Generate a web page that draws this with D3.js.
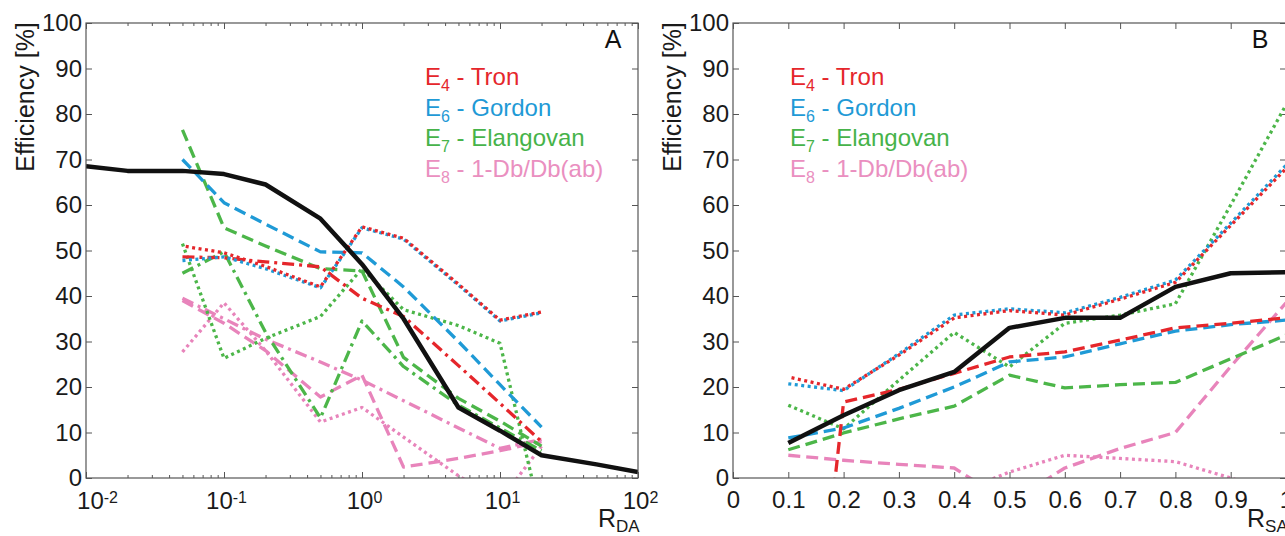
<!DOCTYPE html>
<html><head><meta charset="utf-8">
<script src="https://cdn.jsdelivr.net/npm/d3@7"></script>
<style>body{margin:0;background:#fff}svg{display:block}</style>
</head><body><svg id="c" width="1285" height="536"></svg>
<script>
// ---------- data ----------
const yTicks = [0,10,20,30,40,50,60,70,80,90,100];
const xTicksA = [0.01,0.1,1,10,100];
const xTickExpA = ["-2","-1","0","1","2"];
const xTicksB = [0,0.1,0.2,0.3,0.4,0.5,0.6,0.7,0.8,0.9,1];
const xTickLabelsB = ["0","0.1","0.2","0.3","0.4","0.5","0.6","0.7","0.8","0.9","1"];
const legendSubs = ["4","6","7","8"];
const legendNames = ["Tron","Gordon","Elangovan","1-Db/Db(ab)"];

// Panel A (R_DA, log scale)
const xA = [0.05,0.1,0.2,0.5,1,2,5,10,20];
const xABlack = [0.01,0.02,0.05,0.1,0.2,0.5,1,2,5,10,20,50,100];
const blackA = [68.5,67.5,67.5,66.8,64.5,57,47,35,15.5,10.4,5,3,1.3];
const redDotA = [51,49.5,46.5,42,55.2,52.7,42.6,34.7,36.5];
const blueDotA = [47.8,48.6,46,41.8,55,52.5,42.4,34.5,36.3];
const redDashDotA = [48.6,48.4,47.5,46.4,39.5,35.5,24.7,16.4,8];
const blueDashA = [70,60.5,55.8,49.7,49.5,42,30,20.5,11.2];
const greenDashA = [76.5,55,51,46,45.5,26.5,17.5,12.5,7];
const greenDashDotA = [45,49.7,32,13.2,34.5,24.5,16,11,6];
const greenDotA = [51.5,26.3,30.7,35.5,46,37,33.5,29.6,-9];
const pinkDashA = [39,34,28,17.8,22.6,2.4,4.3,6,8];
const pinkDashDotA = [39.5,35,30.5,25.5,21.5,17,11,6.5,8.5];
const pinkDotA = [27.7,38.5,28,12.3,15.5,9,0.5,-5,7];

// Panel B (R_SA, linear scale)
const xB = [0.1,0.2,0.3,0.4,0.5,0.6,0.7,0.8,0.9,1.0];
const blackB = [7.7,13.8,19.3,23.3,33,35.2,35.2,42,45,45.2];
const redDotB = [22.2,19.5,27,35.2,36.8,35.8,39.3,43,55.5,68];
const blueDotB = [20.7,19.2,27.3,35.8,37.2,36.3,39.7,43.5,56,68.7];
const greenDotB = [16,10.8,21.5,32,24.4,34,35.8,38.3,60,82];
const greenDashB = [6.2,9.9,13,15.8,22.6,19.8,20.5,21,26.2,31.4];
const redDashB = [-93,16.7,19.5,23,26.6,27.7,30.3,33,34,35.2];
const blueDashB = [8.8,11,15.3,20,25.5,26.6,29.5,32.3,33.7,34.7];
const pinkDashB = [5,3.9,3,2.2,-5.5,2.2,6.5,10,24.5,38.5];
const pinkDotB = [-6,-6,-5,-3.5,1.3,5,4.3,3.6,0,-4];

// ---------- style ----------
const C = {red:"#e5262b", blue:"#1f9ad6", green:"#4cb649", pink:"#e884bb", black:"#111"};
const legendColors = [C.red, C.blue, "#46b34a", "#ea8fc0"];
const DASH = {dash:"12,6", dashdot:"12,5,3,5", dot:"3,3.5", solid:null};
const FONT = "'Liberation Sans', Arial, Helvetica, sans-serif";
const LW = 3.3, LWB = 4.5;

const svg = d3.select("#c");
const yTop = 23, yBot = 478;
const y = d3.scaleLinear().domain([0,100]).range([yBot, yTop]);

function drawSeries(g, xs, x, vals, color, style, width, offset) {
  const line = d3.line().x((d,i)=>x(xs[i])).y(d=>y(d));
  const p = g.append("path").datum(vals).attr("d", line)
    .attr("fill","none").attr("stroke",color).attr("stroke-width",width)
    .attr("stroke-linejoin","round");
  if (DASH[style]) p.attr("stroke-dasharray", DASH[style]);
  if (offset) p.attr("stroke-dashoffset", offset);
}

function frame(g, x0, x1, id) {
  g.append("defs").append("clipPath").attr("id",id).append("rect")
    .attr("x",x0).attr("y",yTop).attr("width",x1-x0).attr("height",yBot-yTop);
}

function yAxes(g, x0, x1) {
  const yl = g.append("g").attr("transform",`translate(${x0},0)`)
    .call(d3.axisLeft(y).tickValues(yTicks).tickSize(-6).tickPadding(4).tickFormat(d3.format("d")));
  yl.select(".domain").remove();
  yl.selectAll(".tick line").attr("stroke","#555");
  yl.selectAll(".tick text").attr("font-size",24).attr("font-family",FONT).attr("fill","#1a1a1a");
  const yr = g.append("g").attr("transform",`translate(${x1},0)`)
    .call(d3.axisRight(y).tickValues(yTicks).tickSize(-6).tickFormat(""));
  yr.select(".domain").remove();
  yr.selectAll(".tick line").attr("stroke","#555");
}

function box(g, x0, x1) {
  g.append("rect").attr("x",x0).attr("y",yTop).attr("width",x1-x0).attr("height",yBot-yTop)
    .attr("fill","none").attr("stroke","#555").attr("stroke-width",1.2);
}

function legend(g, x0) {
  const base = [85,115.5,146,176.5];
  legendNames.forEach((n,i)=>{
    const t = g.append("text").attr("x",x0).attr("y",base[i]).attr("font-family",FONT)
      .attr("font-size",24).attr("fill",legendColors[i]);
    t.append("tspan").text("E");
    t.append("tspan").attr("font-size",16).attr("dy",6).text(legendSubs[i]);
    t.append("tspan").attr("dy",-6).text(" - " + n);
  });
}

function xLabel(g, x0, sub) {
  const t = g.append("text").attr("x",x0).attr("y",527).attr("font-family",FONT)
    .attr("font-size",25).attr("fill","#1a1a1a");
  t.append("tspan").text("R");
  t.append("tspan").attr("font-size",17).attr("dy",5).text(sub);
}

function yLabel(g, cx) {
  g.append("text").attr("transform",`translate(${cx},97) rotate(-90)`)
    .attr("text-anchor","middle").attr("dominant-baseline","central")
    .attr("font-family",FONT).attr("font-size",25).attr("fill","#1a1a1a")
    .text("Efficiency [%]");
}

// ---------- Panel A ----------
{
  const x0 = 86, x1 = 638;
  const x = d3.scaleLog().domain([0.01,100]).range([x0,x1]);
  const g = svg.append("g");
  frame(g, x0, x1, "clipA");
  const minor = [];
  for (let e=-2; e<2; e++) for (let k=2;k<=9;k++) minor.push(k*Math.pow(10,e));
  const mb = g.append("g").attr("transform",`translate(0,${yBot})`)
    .call(d3.axisBottom(x).tickValues(minor).tickSize(-3).tickFormat(""));
  const mt = g.append("g").attr("transform",`translate(0,${yTop})`)
    .call(d3.axisTop(x).tickValues(minor).tickSize(-3).tickFormat(""));
  const xb = g.append("g").attr("transform",`translate(0,${yBot})`)
    .call(d3.axisBottom(x).tickValues(xTicksA).tickSize(-6).tickPadding(14).tickFormat(""));
  const xt = g.append("g").attr("transform",`translate(0,${yTop})`)
    .call(d3.axisTop(x).tickValues(xTicksA).tickSize(-6).tickFormat(""));
  [mb,mt,xb,xt].forEach(a=>{a.select(".domain").remove(); a.selectAll(".tick line").attr("stroke","#555");});
  xb.selectAll(".tick text").attr("font-family",FONT).attr("font-size",24).attr("fill","#1a1a1a")
    .attr("x",(d,i)=> i===0 ? 11 : 2)
    .each(function(d,i){
      const t = d3.select(this);
      t.append("tspan").text("10");
      t.append("tspan").attr("dy","-0.35em").attr("font-size",16).text(xTickExpA[i]);
    });
  yAxes(g, x0, x1);
  const lines = g.append("g").attr("clip-path","url(#clipA)");
  drawSeries(lines, xA, x, pinkDotA, C.pink, "dot", LW);
  drawSeries(lines, xA, x, pinkDashDotA, C.pink, "dashdot", LW);
  drawSeries(lines, xA, x, pinkDashA, C.pink, "dash", LW);
  drawSeries(lines, xA, x, greenDotA, C.green, "dot", LW);
  drawSeries(lines, xA, x, greenDashDotA, C.green, "dashdot", LW);
  drawSeries(lines, xA, x, greenDashA, C.green, "dash", LW);
  drawSeries(lines, xA, x, blueDashA, C.blue, "dash", LW);
  drawSeries(lines, xA, x, redDashDotA, C.red, "dashdot", LW);
  drawSeries(lines, xA, x, blueDotA, C.blue, "dot", LW);
  drawSeries(lines, xA, x, redDotA, C.red, "dot", LW, 3.2);
  drawSeries(lines, xABlack, x, blackA, C.black, "solid", LWB);
  box(g, x0, x1);
  legend(g, 425);
  g.append("text").attr("x",613).attr("y",48).attr("text-anchor","middle")
    .attr("font-family",FONT).attr("font-size",25).attr("fill","#111").text("A");
  xLabel(g, 598, "DA");
  yLabel(g, 25);
}

// ---------- Panel B ----------
{
  const x0 = 733, x1 = 1286;
  const x = d3.scaleLinear().domain([0,1]).range([x0,x1]);
  const g = svg.append("g");
  frame(g, x0, x1, "clipB");
  const xb = g.append("g").attr("transform",`translate(0,${yBot})`)
    .call(d3.axisBottom(x).tickValues(xTicksB).tickSize(-6).tickPadding(13)
      .tickFormat((d,i)=>xTickLabelsB[i]));
  const xt = g.append("g").attr("transform",`translate(0,${yTop})`)
    .call(d3.axisTop(x).tickValues(xTicksB).tickSize(-6).tickFormat(""));
  [xb,xt].forEach(a=>{a.select(".domain").remove(); a.selectAll(".tick line").attr("stroke","#555");});
  xb.selectAll(".tick text").attr("font-family",FONT).attr("font-size",24).attr("fill","#1a1a1a");
  yAxes(g, x0, x1);
  const lines = g.append("g").attr("clip-path","url(#clipB)");
  drawSeries(lines, xB, x, pinkDotB, C.pink, "dot", LW);
  drawSeries(lines, xB, x, pinkDashB, C.pink, "dash", LW);
  drawSeries(lines, xB, x, greenDashB, C.green, "dash", LW);
  drawSeries(lines, xB, x, greenDotB, C.green, "dot", LW);
  drawSeries(lines, xB, x, blueDashB, C.blue, "dash", LW);
  drawSeries(lines, xB, x, redDashB, C.red, "dash", LW);
  drawSeries(lines, xB, x, blueDotB, C.blue, "dot", LW);
  drawSeries(lines, xB, x, redDotB, C.red, "dot", LW, 3.2);
  drawSeries(lines, xB, x, blackB, C.black, "solid", LWB);
  box(g, x0, x1);
  legend(g, 790);
  g.append("text").attr("x",1260).attr("y",48).attr("text-anchor","middle")
    .attr("font-family",FONT).attr("font-size",25).attr("fill","#111").text("B");
  xLabel(g, 1247, "SA");
  yLabel(g, 672);
}
</script></body></html>
